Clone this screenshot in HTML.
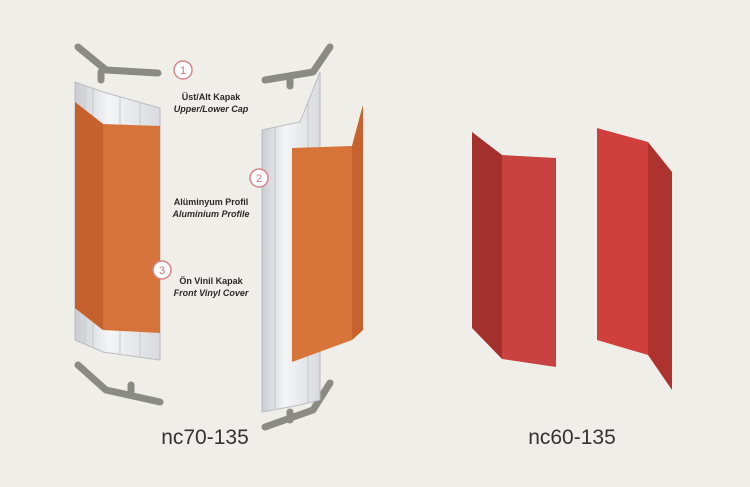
<!DOCTYPE html>
<html><head><meta charset="utf-8"><style>
html,body{margin:0;padding:0;background:#efeee9;}
svg{display:block}
text{font-family:"Liberation Sans",sans-serif}
</style></head><body>
<svg width="750" height="487" viewBox="0 0 750 487">
<defs>
<linearGradient id="al" x1="0" x2="1"><stop offset="0" stop-color="#c9ccd0"/><stop offset=".4" stop-color="#f4f5f7"/><stop offset="1" stop-color="#d8dadd"/></linearGradient>
</defs>
<rect width="750" height="487" fill="#efeee9"/>
<g stroke="#8a8c83" stroke-width="7" stroke-linecap="round" stroke-linejoin="round" fill="none">
<polyline points="78,47 106,70 158,73"/><line x1="101" y1="72" x2="101" y2="80"/>
<polyline points="78,365 106,390 160,402"/><line x1="131" y1="385" x2="131" y2="395"/>
<polyline points="265,80 313,72 330,47"/><line x1="290" y1="76" x2="290" y2="86"/>
<polyline points="265,427 313,410 330,383"/><line x1="290" y1="420" x2="290" y2="412"/>
</g>
<polygon points="75,82 103,92 160,108 160,360 103,352 75,340" fill="url(#al)" stroke="#b9bcc0"/>
<g stroke="#c4c7cb" stroke-width="1"><line x1="85" y1="86" x2="85" y2="345"/><line x1="93" y1="89" x2="93" y2="348"/><line x1="120" y1="97" x2="120" y2="355"/><line x1="140" y1="102" x2="140" y2="357"/></g>
<polygon points="75,102 103,124 160,126 160,333 103,330 75,308" fill="#d5733a"/>
<polygon points="75,102 103,124 103,330 75,308" fill="#c4612c"/>
<polygon points="262,130 300,122 320,72 320,400 300,405 262,412" fill="url(#al)" stroke="#b9bcc0"/>
<g stroke="#c4c7cb" stroke-width="1"><line x1="275" y1="128" x2="275" y2="410"/><line x1="308" y1="100" x2="308" y2="402"/></g>
<polygon points="292,148 352,146 363,105 363,330 352,340 292,362" fill="#d6743a"/>
<polygon points="352,146 363,105 363,330 352,340" fill="#c5622d"/>
<g fill="#fff" stroke="#d8848a" stroke-width="1.5">
<circle cx="183" cy="70" r="9"/><circle cx="259" cy="178" r="9"/><circle cx="162" cy="270" r="9"/>
</g>
<g fill="#c9707a" font-size="11" text-anchor="middle">
<text x="183" y="74">1</text><text x="259" y="182">2</text><text x="162" y="274">3</text>
</g>
<g fill="#2a2a2a" font-size="9" text-anchor="middle" font-weight="bold">
<text x="211" y="100">Üst/Alt Kapak</text><text x="211" y="112" font-style="italic">Upper/Lower Cap</text>
<text x="211" y="205">Alüminyum Profil</text><text x="211" y="217" font-style="italic">Aluminium Profile</text>
<text x="211" y="284">Ön Vinil Kapak</text><text x="211" y="296" font-style="italic">Front Vinyl Cover</text>
</g>
<text x="205" y="444" font-size="21" fill="#333" text-anchor="middle">nc70-135</text>
<polygon points="472,132 502,155 502,359 472,328" fill="#a3302c"/>
<polygon points="502,155 556,158 556,367 502,359" fill="#c8433f"/>
<polygon points="597,128 648,142 648,355 597,340" fill="#cf3f3b"/>
<polygon points="648,142 672,172 672,390 648,355" fill="#ae332f"/>
<text x="572" y="444" font-size="21" fill="#333" text-anchor="middle">nc60-135</text>
</svg>
</body></html>
